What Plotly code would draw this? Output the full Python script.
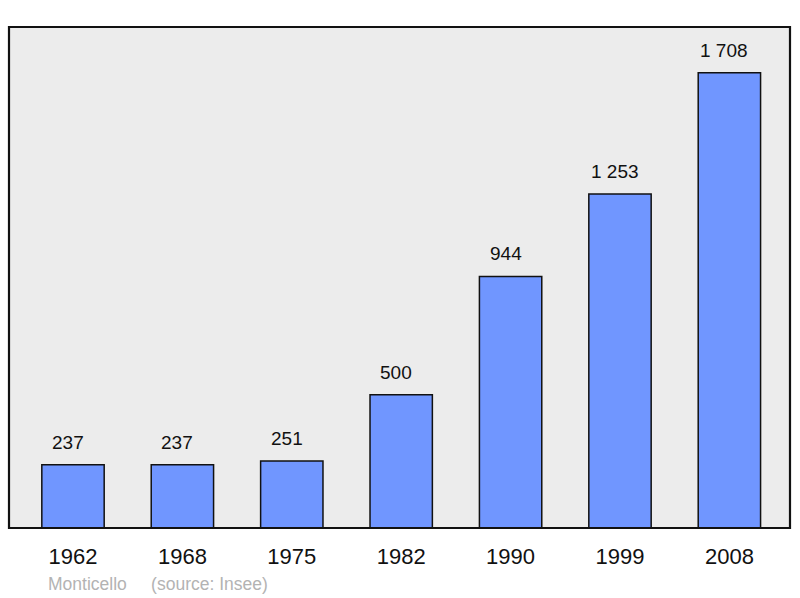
import plotly.graph_objects as go

years = ["1962", "1968", "1975", "1982", "1990", "1999", "2008"]
population = [237, 237, 251, 500, 944, 1253, 1708]
labels = ["237", "237", "251", "500", "944", "1 253", "1 708"]
source_text = "Monticello&nbsp;&nbsp;&nbsp;&nbsp;&nbsp;(source: Insee)"

xs = list(range(len(years)))
FONT = "Liberation Sans, Arial, sans-serif"

fig = go.Figure()
fig.add_trace(go.Bar(
    x=xs, y=population, width=0.57,
    marker=dict(color="#7096ff", line=dict(color="#111111", width=1.5)),
    hoverinfo="skip",
))

for x, v, t in zip(xs, population, labels):
    fig.add_annotation(x=x, y=v, text=t, showarrow=False, yanchor="bottom",
                       yshift=10, xshift=-5, font=dict(size=19, color="#111111", family=FONT))

fig.add_annotation(xref="paper", yref="paper", x=(46 - 9) / 781, y=(528 - 584) / 501,
                   xanchor="left", yanchor="middle", text=source_text, showarrow=False,
                   font=dict(size=17.5, color="#b3b3b3", family=FONT))

fig.add_shape(type="rect", xref="paper", yref="paper", x0=0, x1=1, y0=0, y1=1,
              line=dict(color="#111111", width=2.2), fillcolor="rgba(0,0,0,0)", layer="above")

fig.update_layout(
    width=800, height=598,
    margin=dict(l=9, r=10, t=27, b=70),
    paper_bgcolor="white", plot_bgcolor="#ececec",
    showlegend=False,
    font=dict(family=FONT, color="#111111"),
    xaxis=dict(range=[-0.585, 6.554], tickmode="array", tickvals=xs, ticktext=years,
               showgrid=False, zeroline=False, showline=False, ticks="",
               tickfont=dict(size=22, color="#111111"), ticklabelstandoff=13),
    yaxis=dict(range=[0, 1880], showgrid=False, zeroline=False, showticklabels=False,
               showline=False, ticks=""),
)

fig.write_html("out.html", config={"displayModeBar": False},
               post_script="document.body.style.margin='0';")
